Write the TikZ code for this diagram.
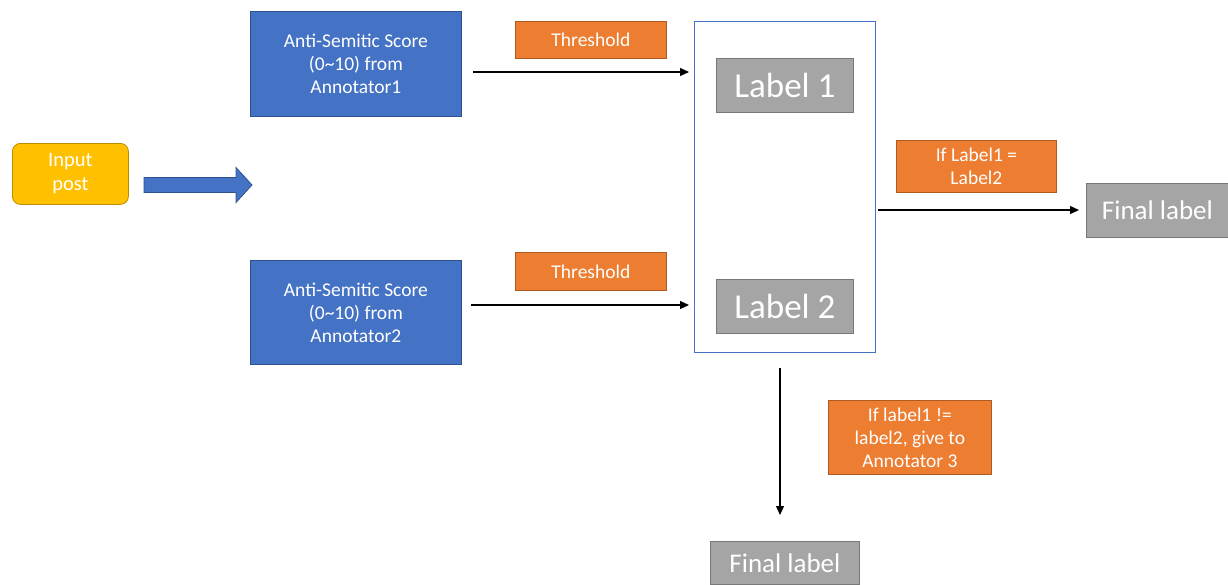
\documentclass[tikz,border=0pt]{standalone}
\usepackage{fontspec}
\setmainfont{Carlito}
\usetikzlibrary{arrows.meta}
\definecolor{cblue}{HTML}{4472C4}
\definecolor{cblueb}{HTML}{2F528F}
\definecolor{corange}{HTML}{ED7D31}
\definecolor{corangeb}{HTML}{AE5A21}
\definecolor{cgold}{HTML}{FFC000}
\definecolor{cgoldb}{HTML}{BC8C00}
\definecolor{cgray}{HTML}{A5A5A5}
\definecolor{cgrayb}{HTML}{787878}
\tikzset{
  box/.style={draw, line width=0.8pt, inner sep=0pt, text=white, align=center, anchor=north west},
  bluebox/.style={box, fill=cblue, draw=cblueb, font=\fontsize{19.5}{23}\selectfont},
  orbox/.style={box, fill=corange, draw=corangeb, font=\fontsize{19.5}{23}\selectfont},
  graybox/.style={box, fill=cgray, draw=cgrayb},
  conn/.style={-{Triangle[length=9pt,width=8pt]}, line width=1.2pt, black},
}
\begin{document}
\begin{tikzpicture}[x=1pt,y=-1pt]
\useasboundingbox (0,0) rectangle (1228,584);
% input post
\node[box, fill=cgold, draw=cgoldb, rounded corners=8pt, minimum width=116pt, minimum height=61pt, font=\fontsize{20.5}{24}\selectfont] (inp) at (12,143) {Input\\post};
% big arrow
\coordinate (bigtail) at (144,185);
\draw[draw=cblueb, fill=cblue, line width=0.8pt] (bigtail) ++(0,-7.5) -- ++(92,0) -- ++(0,-10) -- ++(16,17.5) -- ++(-16,17.5) -- ++(0,-10) -- ++(-92,0) -- cycle;
% blue boxes
\node[bluebox, minimum width=211pt, minimum height=105pt] (s1) at (250,11) {Anti-Semitic Score\\(0\textasciitilde10) from\\Annotator1};
\node[bluebox, minimum width=211pt, minimum height=104pt] (s2) at (250,260) {Anti-Semitic Score\\(0\textasciitilde10) from\\Annotator2};
% thresholds
\node[orbox, minimum width=151pt, minimum height=37pt] (t1) at (515,21) {Threshold};
\node[orbox, minimum width=151pt, minimum height=38pt] (t2) at (515,252) {Threshold};
% frame
\node[draw=cblue, line width=1.2pt, minimum width=181pt, minimum height=331pt, anchor=north west, inner sep=0pt] (frame) at (694,21) {};
% labels
\node[graybox, minimum width=137pt, minimum height=54pt, font=\fontsize{35}{38}\selectfont] (l1) at (716,58) {Label 1};
\node[graybox, minimum width=137pt, minimum height=54pt, font=\fontsize{35}{38}\selectfont] (l2) at (716,279) {Label 2};
% condition boxes
\node[orbox, minimum width=160pt, minimum height=52pt] (c1) at (896,140) {If Label1 =\\Label2};
\node[orbox, minimum width=163pt, minimum height=74pt] (c2) at (828,400) {If label1 !=\\label2, give to\\Annotator 3};
% final labels
\node[graybox, minimum width=142pt, minimum height=54pt, font=\fontsize{27}{30}\selectfont] (f1) at (1086,183) {Final label};
\node[graybox, minimum width=149pt, minimum height=43pt, font=\fontsize{27}{30}\selectfont] (f2) at (710,541) {Final label};
% connector end points
\coordinate (a1s) at (473,72);
\coordinate (a1e) at (689,72);
\coordinate (a2s) at (471,305);
\coordinate (a2e) at (689,305);
\coordinate (a3s) at (878,210);
\coordinate (a3e) at (1079,210);
\coordinate (a4s) at (780,368);
\coordinate (a4e) at (780,515);
\draw[conn] (a1s) -- (a1e);
\draw[conn] (a2s) -- (a2e);
\draw[conn] (a3s) -- (a3e);
\draw[conn] (a4s) -- (a4e);
\end{tikzpicture}
\end{document}
